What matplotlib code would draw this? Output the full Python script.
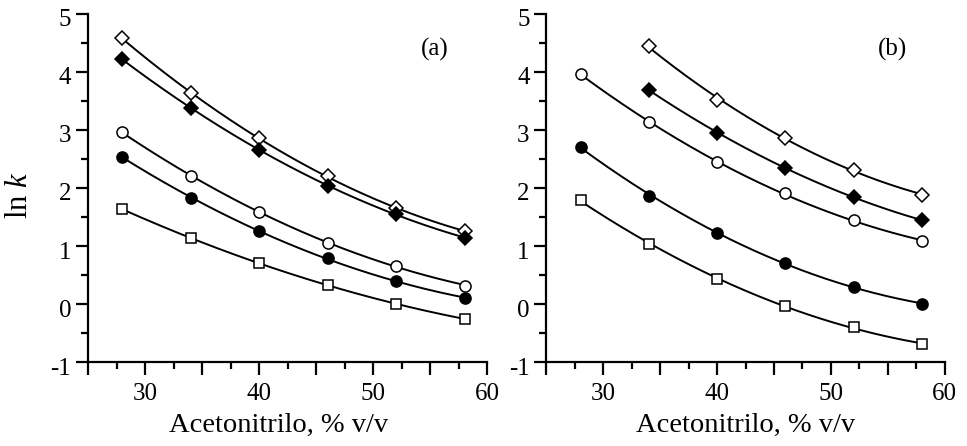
import numpy as np
import matplotlib
matplotlib.use("Agg")
import matplotlib.pyplot as plt
import matplotlib.transforms as mtransforms
from matplotlib.ticker import MultipleLocator, FuncFormatter

plt.rcParams['font.family'] = ['Liberation Serif', 'DejaVu Serif']
plt.rcParams['mathtext.fontset'] = 'custom'
plt.rcParams['mathtext.rm'] = 'Liberation Serif'
plt.rcParams['mathtext.it'] = 'Liberation Serif:italic'

# % acetonitrile
x_all = [28, 34, 40, 46, 52, 58]
x_from34 = [34, 40, 46, 52, 58]

# panel (a): ln k
a_open_diamond = [4.58, 3.63, 2.86, 2.20, 1.65, 1.26]
a_filled_diamond = [4.22, 3.37, 2.66, 2.04, 1.55, 1.14]
a_open_circle = [2.96, 2.21, 1.58, 1.06, 0.66, 0.32]
a_filled_circle = [2.54, 1.82, 1.26, 0.79, 0.39, 0.11]
a_square = [1.64, 1.13, 0.70, 0.33, 0.01, -0.26]

# panel (b): ln k
b_open_diamond = [4.44, 3.52, 2.86, 2.31, 1.88]
b_filled_diamond = [3.69, 2.95, 2.34, 1.85, 1.44]
b_open_circle = [3.97, 3.13, 2.44, 1.91, 1.44, 1.09]
b_filled_circle = [2.71, 1.87, 1.22, 0.71, 0.30, 0.00]
b_square = [1.79, 1.03, 0.44, -0.03, -0.40, -0.69]

styles = {
    'open_diamond': dict(marker='D', mfc='white', ms=7),
    'filled_diamond': dict(marker='D', mfc='black', ms=7),
    'open_circle': dict(marker='o', mfc='white', ms=8),
    'filled_circle': dict(marker='o', mfc='black', ms=8),
    'square': dict(marker='s', mfc='white', ms=7.5),
}

panel_a = [(x_all, a_open_diamond, 'open_diamond'),
           (x_all, a_filled_diamond, 'filled_diamond'),
           (x_all, a_open_circle, 'open_circle'),
           (x_all, a_filled_circle, 'filled_circle'),
           (x_all, a_square, 'square')]
panel_b = [(x_from34, b_open_diamond, 'open_diamond'),
           (x_from34, b_filled_diamond, 'filled_diamond'),
           (x_all, b_open_circle, 'open_circle'),
           (x_all, b_filled_circle, 'filled_circle'),
           (x_all, b_square, 'square')]


def draw(ax, series, tag):
    for xs, ys, kind in series:
        # smooth fitted curve through the points
        c = np.polyfit(xs, ys, 2)
        xx = np.linspace(xs[0], xs[-1], 200)
        ax.plot(xx, np.polyval(c, xx), color='black', lw=1.4, zorder=2)
        ax.plot(xs, ys, ls='none', mec='black', mew=1.1, zorder=3,
                **styles[kind])
    ax.set_xlim(25, 60)
    ax.set_ylim(-1, 5)
    ax.spines['top'].set_visible(False)
    ax.spines['right'].set_visible(False)
    for s in ('left', 'bottom'):
        ax.spines[s].set_linewidth(1.6)
    ax.xaxis.set_major_locator(MultipleLocator(5))
    ax.xaxis.set_minor_locator(MultipleLocator(2.5))
    ax.xaxis.set_major_formatter(FuncFormatter(
        lambda v, p: f"{v:.0f}" if abs(v % 10) < 1e-6 and v > 25 else ""))
    ax.yaxis.set_major_locator(MultipleLocator(1))
    ax.yaxis.set_minor_locator(MultipleLocator(0.5))
    ax.yaxis.set_major_formatter(FuncFormatter(lambda v, p: f"{v:.0f}"))
    ax.tick_params(which='major', length=9, width=1.6, labelsize=18)
    ax.tick_params(which='minor', length=5, width=1.6)
    ax.tick_params(axis='x', which='major', pad=6)
    ax.tick_params(axis='y', which='major', pad=3)
    # y tick labels sit a little below their ticks
    shift = mtransforms.ScaledTranslation(0, -4 / 100, fig.dpi_scale_trans)
    for lab in ax.get_yticklabels():
        lab.set_transform(lab.get_transform() + shift)
    ax.set_xlabel("Acetonitrilo, % v/v", fontsize=20.5, labelpad=6)
    ax.text(55.4, 4.38, tag, fontsize=18, ha='center', va='center')


fig = plt.figure(figsize=(9.67, 4.46), dpi=100)
ax1 = fig.add_axes([0.091, 0.188, 0.413, 0.781])
ax2 = fig.add_axes([0.565, 0.188, 0.412, 0.781])
draw(ax1, panel_a, "(a)")
draw(ax2, panel_b, "(b)")
ax1.xaxis.label.set_x(0.477)
ax1.set_ylabel(r"ln $k$", fontsize=22)
ax1.yaxis.set_label_coords(-0.135, 0.48)

fig.savefig("out.png", dpi=100)
